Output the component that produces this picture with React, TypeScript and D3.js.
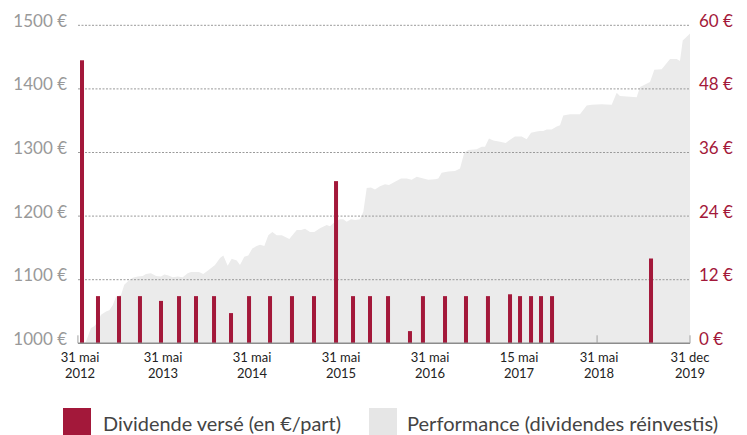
import React from "react";
import * as d3 from "d3";

// x axis: months since 31 May 2012, mapped piecewise to category-like positions
const tickMonths = [0, 12, 24, 36, 48, 59.5, 72, 91];
const tickLine1 = ["31 mai", "31 mai", "31 mai", "31 mai", "31 mai", "15 mai", "31 mai", "31 dec"];
const tickLine2 = ["2012", "2013", "2014", "2015", "2016", "2017", "2018", "2019"];
const axisTickMonths = [-0.3, 71.7, 91];

const leftTicks = [1000, 1100, 1200, 1300, 1400, 1500];
const rightTicks = [0, 12, 24, 36, 48, 60];

// dividends paid (€/part)
const divMonths = [0.29, 2.6, 5.64, 8.67, 11.71, 14.16, 16.45, 18.88, 21.17, 23.6, 26.43, 29.39, 32.36, 35.33, 37.62, 39.91, 42.34, 45.3, 47.05, 49.94, 52.65, 55.49, 58.34, 59.66, 61.38, 62.94, 64.66, 82.86];
const divValues = [53.4, 8.9, 8.9, 8.9, 8.0, 8.9, 8.9, 8.9, 5.7, 8.9, 8.9, 8.9, 8.9, 30.6, 8.9, 8.9, 8.9, 2.3, 8.9, 8.9, 8.9, 8.9, 9.25, 8.9, 8.9, 8.9, 8.9, 16.0];

// performance (dividends reinvested), base 1000
const perfMonths = [0.58, 0.87, 1.59, 2.07, 2.56, 3.04, 3.76, 4.24, 4.73, 5.2, 5.93, 6.4, 6.9, 7.62, 8.34, 9.06, 9.54, 10.26, 10.99, 11.71,
  12.18, 12.63, 13.31, 13.98, 14.66, 15.33, 15.78, 16.45, 16.85, 17.43, 18.11, 19.01, 19.69, 20.13, 20.72, 21.26, 21.94, 22.38, 22.96, 23.5,
  24.04, 24.63, 25.08, 25.66, 26.2, 26.74, 27.33, 28.01, 29.03, 30.03, 30.61, 31.15, 31.82, 32.4, 33.17, 34.07, 34.52, 35.19, 35.87,
  36.31, 36.77, 37.35, 37.89, 38.56, 39.01, 39.47, 40.04, 40.58, 41.26, 41.93, 42.47, 43.28, 44.09, 44.86, 45.53, 46.21, 47.1, 47.77,
  48.65, 49.07, 49.51, 50.36, 51.23, 51.88, 52.43, 52.95, 54.03, 54.68, 55.11, 55.62, 56.18, 57.05, 57.78, 58.34, 58.98,
  59.92, 60.7, 61.38, 62.27, 62.78, 63.3, 63.83, 64.61, 65.39, 65.91, 66.42, 67.47, 69.03, 70.08, 70.86,
  72.56, 74.65, 75.7, 76.38, 77.78, 79.87, 80.56, 81.61, 82.65, 83.55, 85.09, 86.83, 88.22, 88.91, 89.48, 90.31, 91.0];
const perfValues = [1000, 1003, 1024, 1027, 1034, 1045, 1050, 1052, 1060, 1073, 1076, 1092, 1097, 1103, 1105, 1106, 1109, 1110, 1106, 1105,
  1108, 1107, 1104, 1105, 1104, 1110, 1112, 1112, 1112, 1109, 1115, 1123, 1134, 1138, 1122, 1133, 1130, 1123, 1136, 1138,
  1149, 1153, 1155, 1153, 1170, 1175, 1170, 1170, 1164, 1178, 1178, 1180, 1175, 1175, 1181, 1186, 1184, 1191, 1195,
  1195, 1191, 1195, 1194, 1195, 1207, 1244, 1245, 1242, 1247, 1250, 1249, 1254, 1259, 1259, 1257, 1262, 1259, 1257,
  1258, 1259, 1268, 1270, 1271, 1275, 1300, 1304, 1305, 1309, 1309, 1322, 1319, 1317, 1315, 1320, 1325,
  1325, 1321, 1331, 1333, 1334, 1334, 1336, 1336, 1341, 1343, 1358, 1360, 1360, 1374, 1375,
  1376, 1375, 1394, 1389, 1388, 1387, 1403, 1407, 1411, 1430, 1431, 1447, 1447, 1444, 1476, 1482, 1487];

const legendLabels = ["Dividende versé (en €/part)", "Performance (dividendes réinvestis)"];

const RED = "#A3183A";
const AREA = "#EBEBEB";
const FONT = "Lato, 'Open Sans', sans-serif";

export default function App() {
  const W = 747, H = 435;
  const plotLeft = 78, plotRight = 690;
  const x = d3.scaleLinear().domain(tickMonths).range([80, 163, 252, 341, 430, 519, 599, 690]);
  const yL = d3.scaleLinear().domain([1000, 1500]).range([343.3, 25.3]);
  const yR = d3.scaleLinear().domain([0, 60]).range([343.3, 25.3]);

  const perf = perfMonths.map((m, i) => ({ m, v: perfValues[i] }));
  const area = d3.area<{ m: number; v: number }>()
    .x(d => x(d.m))
    .y0(yL(1000))
    .y1(d => yL(d.v));

  const barW = 4;

  return (
    <svg width={W} height={H} style={{ position: "absolute", left: 0, top: 0 }} fontFamily={FONT}>
      <path d={area(perf) || ""} fill={AREA} />
      {leftTicks.slice(1).map(t => (
        <line key={t} x1={plotLeft} x2={plotRight} y1={yL(t)} y2={yL(t)} stroke="#9a9a9a" strokeWidth={1} strokeDasharray="2,1.5" />
      ))}
      {divMonths.map((m, i) => (
        <rect key={i} x={x(m) - barW / 2} width={barW} y={yR(divValues[i])} height={yR(0) - yR(divValues[i])} fill={RED} />
      ))}
      <line x1={plotLeft} x2={plotRight} y1={yL(1000)} y2={yL(1000)} stroke="#8c8c8c" strokeWidth={1.5} />
      {axisTickMonths.map((m, i) => (
        <line key={i} x1={x(m)} x2={x(m)} y1={yL(1000) - 8} y2={yL(1000)} stroke="#a0a0a0" strokeWidth={1} />
      ))}
      {leftTicks.map(t => (
        <text key={t} x={67} y={yL(t) + 1.5} textAnchor="end" fontSize={17} fill="#999999">{t} €</text>
      ))}
      {rightTicks.map(t => (
        <text key={t} x={699} y={yR(t) + 1.5} textAnchor="start" fontSize={17} fill={RED}>{t} €</text>
      ))}
      {tickMonths.map((m, i) => (
        <g key={i}>
          <text x={x(m)} y={362} textAnchor="middle" fontSize={13} fill="#222">{tickLine1[i]}</text>
          <text x={x(m)} y={378} textAnchor="middle" fontSize={13} fill="#222">{tickLine2[i]}</text>
        </g>
      ))}
      <rect x={63} y={408} width={28} height={27} fill={RED} />
      <text x={103} y={431} fontSize={19} fill="#444" textLength={238} lengthAdjust="spacingAndGlyphs">{legendLabels[0]}</text>
      <rect x={369} y={408} width={28} height={27} fill="#E6E6E6" />
      <text x={407} y={431} fontSize={19} fill="#444" textLength={311} lengthAdjust="spacingAndGlyphs">{legendLabels[1]}</text>
    </svg>
  );
}
